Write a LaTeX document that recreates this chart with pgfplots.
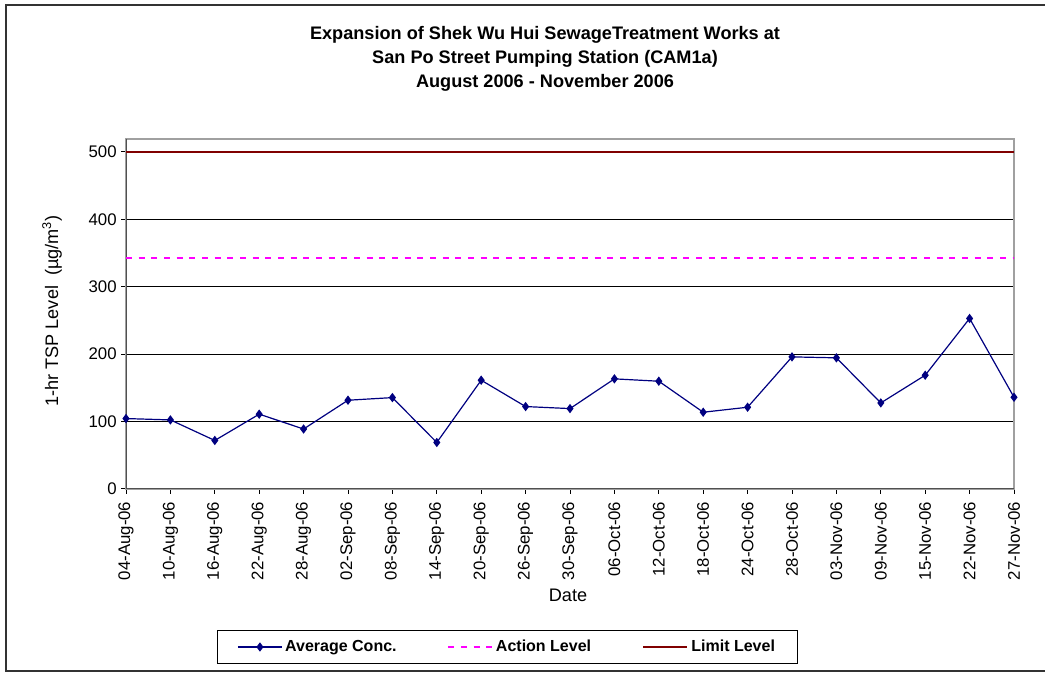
\documentclass[border=0pt]{standalone}
\usepackage{fontspec}
\setmainfont{Liberation Sans}
\usepackage{pgfplots}
\pgfplotsset{compat=1.18}
\definecolor{navyc}{RGB}{0,0,128}
\definecolor{limitc}{RGB}{128,0,0}
\definecolor{actionc}{RGB}{255,0,255}
\definecolor{boxgray}{RGB}{160,160,160}
\definecolor{axisgray}{RGB}{80,80,80}
\begin{document}
\begin{tikzpicture}[x=0.75pt,y=0.75pt]
\useasboundingbox (0,0) rectangle (1045,673);
% outer frame (right edge lies outside the picture)
\draw[line width=1.5pt,black!80] (1045,668) -- (6,668) -- (6,2) -- (1045,2);
% title
\node[align=center,font=\bfseries\fontsize{13.6}{18}\selectfont] at (545,614) {Expansion of Shek Wu Hui SewageTreatment Works at\\San Po Street Pumping Station (CAM1a)\\August 2006 - November 2006};
% y label
\node[rotate=90,font=\fontsize{13.6}{16}\selectfont] at (52,362) {1-hr TSP Level\ \ (µg/m\textsuperscript{3})};
% x label
\node[font=\fontsize{13.6}{16}\selectfont] at (568,78) {Date};
\begin{axis}[
  at={(94.5pt,138pt)}, anchor=south west,
  scale only axis, width=666pt, height=262.5pt,
  xmin=0, xmax=20, ymin=0, ymax=519.3,
  axis line style={boxgray, line width=0.9pt},
  ytick={0,100,200,300,400,500},
  xtick={0,...,20},
  xticklabels={04-Aug-06,10-Aug-06,16-Aug-06,22-Aug-06,28-Aug-06,02-Sep-06,08-Sep-06,14-Sep-06,20-Sep-06,26-Sep-06,30-Sep-06,06-Oct-06,12-Oct-06,18-Oct-06,24-Oct-06,28-Oct-06,03-Nov-06,09-Nov-06,15-Nov-06,22-Nov-06,27-Nov-06},
  xticklabel style={rotate=90, anchor=east, font=\fontsize{12.6}{15}\selectfont},
  xticklabel shift=2.5pt,
  yticklabel style={font=\fontsize{12.6}{15}\selectfont},
  /pgf/number format/assume math mode=true,
  tick align=outside, major tick length=3.5pt,
  xtick pos=bottom, ytick pos=left,
  tick style={black, line width=0.75pt},
  ymajorgrids, grid style={black, line width=0.75pt},
  legend columns=3,
  legend style={at={(0.4296,-0.4514)}, anchor=center, draw=black, line width=0.75pt,
    font=\bfseries\fontsize{12}{14}\selectfont, inner xsep=15pt, inner ysep=5pt,
    /tikz/every even column/.append style={column sep=36pt}},
  legend cell align=left,
  legend image code/.code={\draw[mark repeat=2,mark phase=2,#1] plot coordinates {(0pt,0pt)(16.5pt,0pt)(33pt,0pt)};},
]
\draw[axisgray, line width=1.2pt] (rel axis cs:0,1) -- (rel axis cs:0,0) -- (rel axis cs:1,0);
\addplot[navyc, line width=0.9pt, mark=diamond*, mark size=2.8pt, mark options={solid, fill=navyc}] coordinates {
(0,104.5) (1,102.5) (2,72) (3,111) (4,89) (5,131.7) (6,135.6) (7,69) (8,161.4) (9,122.3) (10,119.3)
(11,163.4) (12,159.9) (13,113.9) (14,121.3) (15,196) (16,194.6) (17,127.7) (18,168.8) (19,253) (20,136.1)};
\addlegendentry{Average Conc.}
\addplot[actionc, line width=1.5pt, dash pattern=on 4.5pt off 5pt] coordinates {(0,342) (20,342)};
\addlegendentry{Action Level}
\addplot[limitc, line width=2.2pt] coordinates {(0,500) (20,500)};
\addlegendentry{Limit Level}
\end{axis}
\end{tikzpicture}
\end{document}
